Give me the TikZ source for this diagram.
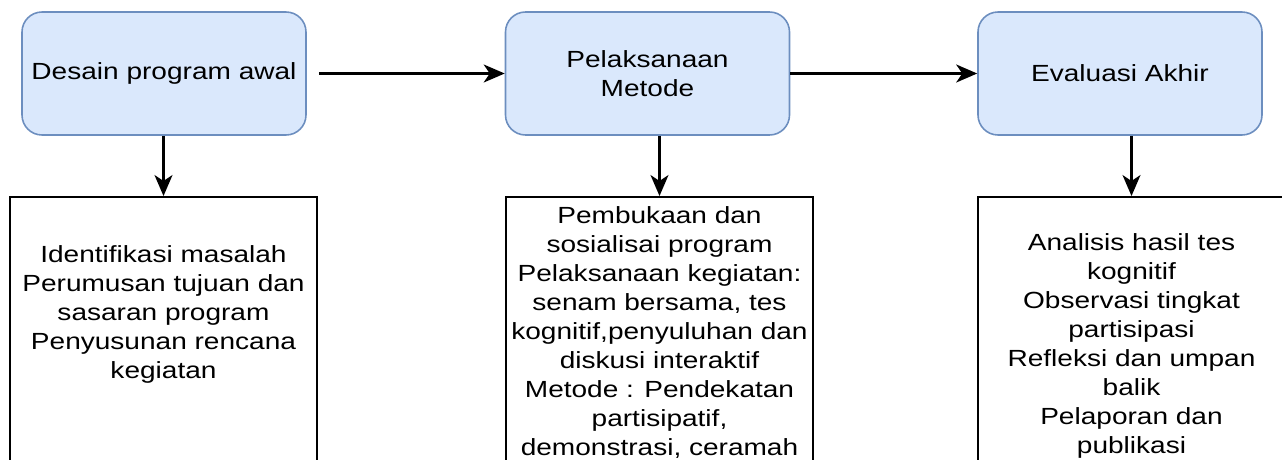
\documentclass[tikz,border=0pt]{standalone}
\usepackage{fontspec}
\setmainfont{Liberation Sans}[FakeStretch=1.2]
\usetikzlibrary{arrows.meta}
\definecolor{boxfill}{HTML}{DAE8FC}
\definecolor{boxline}{HTML}{6C8EBF}

\begin{document}
\begin{tikzpicture}[
	stage/.style={draw=boxline, fill=boxfill, line width=0.9pt, rounded corners=0.4cm,
		minimum width=5.68cm, minimum height=2.46cm, align=center, inner sep=0pt},
	detail/.style={draw=black, line width=1.3pt, minimum width=6.14cm,
		minimum height=5.8cm, anchor=north, inner sep=0pt},
	itemtext/.style={align=center, anchor=north, inner sep=0pt},
	flow/.style={-{Stealth[length=0.42cm, width=0.36cm, inset=0.12cm]}, line width=1.2pt},
	font=\fontsize{13.3}{16.5}\selectfont
	]
	\clip (0,0) rectangle (25.64,-9.18);

	\node[stage] (D) at (3.28,-1.47) {Desain program awal};
	\node[stage] (P) at (12.95,-1.47) {Pelaksanaan\\Metode};
	\node[stage] (E) at (22.40,-1.47) {Evaluasi Akhir};

	\node[detail] (O1) at (3.27,-3.92) {};
	\node[detail] (O2) at (13.19,-3.92) {};
	\node[detail] (O3) at (22.63,-3.92) {};

	\node[itemtext] (T1) at (3.27,-4.91) {Identifikasi masalah\\Perumusan tujuan dan\\sasaran program\\Penyusunan rencana\\kegiatan};
	\node[itemtext] (T2) at (13.19,-4.12) {Pembukaan dan\\sosialisai program\\Pelaksanaan kegiatan:\\senam bersama, tes\\kognitif,penyuluhan dan\\diskusi interaktif\\Metode : Pendekatan\\partisipatif,\\demonstrasi, ceramah};
	\node[itemtext] (T3) at (22.63,-4.66) {Analisis hasil tes\\kognitif\\Observasi tingkat\\partisipasi\\Refleksi dan umpan\\balik\\Pelaporan dan\\publikasi};

	\path [flow] (D) edge[shorten <=0.24cm] (P);
	\path [flow] (P) edge (E);
	\draw [flow] (D.south -| O1.north) -- (O1.north);
	\draw [flow] (P.south -| O2.north) -- (O2.north);
	\draw [flow] (E.south -| O3.north) -- (O3.north);
\end{tikzpicture}
\end{document}
